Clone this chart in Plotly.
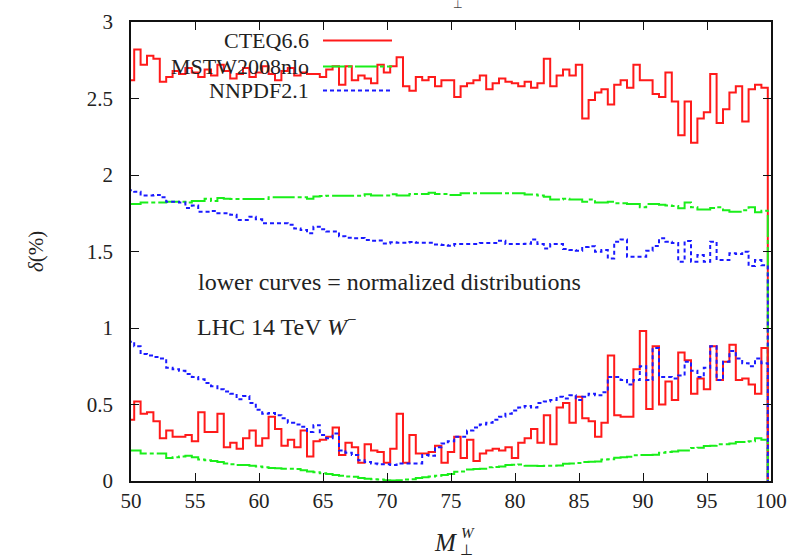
import numpy as np
import plotly.graph_objects as go

# ---------------- data ----------------
X_START = 50.0
BIN_WIDTH = 0.5

cteq_upper = [2.62, 2.82, 2.72, 2.78, 2.76, 2.61, 2.64, 2.68, 2.66, 2.70,
              2.67, 2.64, 2.69, 2.65, 2.72, 2.68, 2.63, 2.66, 2.70, 2.64,
              2.67, 2.71, 2.66, 2.62, 2.68, 2.70, 2.65, 2.67, 2.66, 2.66,
              2.64, 2.69, 2.71, 2.59, 2.71, 2.62, 2.65, 2.63, 2.60, 2.72,
              2.67, 2.71, 2.77, 2.58, 2.55, 2.64, 2.62, 2.64, 2.58, 2.62,
              2.62, 2.51, 2.58, 2.60, 2.62, 2.65, 2.56, 2.60, 2.63, 2.61,
              2.60, 2.58, 2.61, 2.57, 2.60, 2.76, 2.58, 2.65, 2.69, 2.65,
              2.72, 2.37, 2.49, 2.54, 2.56, 2.46, 2.59, 2.62, 2.57, 2.72,
              2.62, 2.62, 2.53, 2.51, 2.67, 2.48, 2.26, 2.48, 2.21, 2.37,
              2.41, 2.66, 2.34, 2.43, 2.54, 2.58, 2.35, 2.56, 2.59, 2.57]

mstw_upper = [1.81, 1.81, 1.82, 1.82, 1.82, 1.82, 1.825, 1.825, 1.825, 1.82,
              1.83, 1.83, 1.845, 1.83, 1.85, 1.845, 1.843, 1.843, 1.843, 1.843,
              1.843, 1.843, 1.855, 1.855, 1.855, 1.855, 1.855, 1.855, 1.845, 1.86,
              1.862, 1.865, 1.865, 1.865, 1.865, 1.865, 1.865, 1.875, 1.866, 1.866,
              1.866, 1.875, 1.866, 1.866, 1.876, 1.876, 1.876, 1.884, 1.876, 1.876,
              1.87, 1.87, 1.88, 1.88, 1.88, 1.88, 1.88, 1.88, 1.88, 1.88,
              1.88, 1.88, 1.873, 1.873, 1.866, 1.858, 1.84, 1.84, 1.845, 1.84,
              1.84, 1.825, 1.84, 1.82, 1.82, 1.825, 1.815, 1.815, 1.81, 1.81,
              1.79, 1.81, 1.81, 1.805, 1.80, 1.797, 1.782, 1.82, 1.79, 1.775,
              1.775, 1.785, 1.79, 1.77, 1.76, 1.76, 1.77, 1.79, 1.756, 1.767]

nnpdf_upper = [1.90, 1.89, 1.866, 1.866, 1.87, 1.854, 1.825, 1.825, 1.82, 1.785,
               1.80, 1.76, 1.76, 1.765, 1.75, 1.75, 1.74, 1.706, 1.706, 1.727,
               1.71, 1.684, 1.684, 1.684, 1.684, 1.675, 1.651, 1.64, 1.62, 1.662,
               1.645, 1.63, 1.63, 1.60, 1.59, 1.586, 1.588, 1.575, 1.57, 1.572,
               1.553, 1.56, 1.557, 1.557, 1.562, 1.557, 1.557, 1.557, 1.545, 1.542,
               1.538, 1.549, 1.549, 1.549, 1.549, 1.555, 1.555, 1.555, 1.57, 1.549,
               1.549, 1.549, 1.551, 1.579, 1.549, 1.52, 1.549, 1.549, 1.516, 1.51,
               1.505, 1.53, 1.535, 1.499, 1.51, 1.455, 1.564, 1.579, 1.466, 1.466,
               1.466, 1.505, 1.536, 1.586, 1.564, 1.555, 1.433, 1.568, 1.433, 1.477,
               1.433, 1.564, 1.444, 1.444, 1.488, 1.483, 1.499, 1.405, 1.444, 1.41]

cteq_lower = [0.40, 0.52, 0.44, 0.45, 0.39, 0.28, 0.33, 0.29, 0.29, 0.30,
              0.26, 0.45, 0.32, 0.32, 0.44, 0.22, 0.25, 0.21, 0.28, 0.33,
              0.23, 0.28, 0.42, 0.34, 0.23, 0.27, 0.22, 0.33, 0.16, 0.26,
              0.27, 0.29, 0.35, 0.17, 0.25, 0.22, 0.12, 0.24, 0.20, 0.19,
              0.12, 0.21, 0.44, 0.12, 0.30, 0.18, 0.18, 0.19, 0.23, 0.12,
              0.19, 0.29, 0.15, 0.27, 0.13, 0.18, 0.20, 0.21, 0.20, 0.22,
              0.15, 0.25, 0.28, 0.34, 0.25, 0.43, 0.24, 0.48, 0.51, 0.38,
              0.55, 0.41, 0.39, 0.29, 0.38, 0.82, 0.43, 0.42, 0.42, 0.73,
              0.98, 0.47, 0.88, 0.50, 0.65, 0.53, 0.84, 0.79, 0.57, 0.67,
              0.60, 0.88, 0.66, 0.78, 0.89, 0.66, 0.67, 0.63, 0.57, 0.87]

mstw_lower = [0.20, 0.20, 0.18, 0.18, 0.18, 0.18, 0.15, 0.155, 0.16, 0.165,
              0.155, 0.14, 0.135, 0.13, 0.125, 0.115, 0.11, 0.105, 0.105, 0.10,
              0.095, 0.09, 0.085, 0.083, 0.08, 0.08, 0.078, 0.07, 0.062, 0.058,
              0.05, 0.045, 0.04, 0.035, 0.03, 0.028, 0.02, 0.015, 0.012, 0.01,
              0.005, 0.003, 0.005, 0.01, 0.012, 0.02, 0.025, 0.03, 0.035, 0.04,
              0.045, 0.06, 0.062, 0.075, 0.078, 0.08, 0.09, 0.092, 0.095, 0.105,
              0.107, 0.108, 0.10, 0.10, 0.098, 0.10, 0.10, 0.102, 0.112, 0.115,
              0.118, 0.125, 0.126, 0.128, 0.14, 0.142, 0.152, 0.155, 0.158, 0.168,
              0.17, 0.17, 0.172, 0.185, 0.19, 0.192, 0.20, 0.20, 0.215, 0.218,
              0.228, 0.23, 0.24, 0.24, 0.245, 0.255, 0.255, 0.26, 0.28, 0.27]

nnpdf_lower = [0.91, 0.88, 0.83, 0.82, 0.81, 0.80, 0.74, 0.73, 0.72, 0.70,
               0.68, 0.665, 0.64, 0.62, 0.60, 0.585, 0.57, 0.535, 0.555, 0.51,
               0.465, 0.44, 0.445, 0.43, 0.41, 0.38, 0.37, 0.355, 0.32, 0.365,
               0.30, 0.28, 0.31, 0.20, 0.185, 0.17, 0.135, 0.125, 0.115, 0.11,
               0.11, 0.105, 0.115, 0.115, 0.115, 0.115, 0.17, 0.165, 0.22, 0.245,
               0.26, 0.29, 0.29, 0.33, 0.35, 0.37, 0.38, 0.40, 0.42, 0.44,
               0.46, 0.48, 0.49, 0.48, 0.51, 0.52, 0.53, 0.55, 0.54, 0.56,
               0.53, 0.55, 0.57, 0.56, 0.58, 0.68, 0.68, 0.66, 0.63, 0.66,
               0.75, 0.66, 0.87, 0.68, 0.68, 0.67, 0.69, 0.78, 0.72, 0.68,
               0.74, 0.88, 0.66, 0.78, 0.85, 0.80, 0.77, 0.75, 0.80, 0.77]

legend_labels = ["CTEQ6.6", "MSTW2008nlo", "NNPDF2.1"]
x_ticks = [50, 55, 60, 65, 70, 75, 80, 85, 90, 95, 100]
y_ticks = [0, 0.5, 1, 1.5, 2, 2.5, 3]
y_tick_labels = ["0", "0.5", "1", "1.5", "2", "2.5", "3"]

# ---------------- styles ----------------
FONT = "Liberation Serif, Times New Roman, serif"
TXT = "#222222"
styles = [dict(color="#ff1a1a", width=2, dash="solid"),
          dict(color="#1aee1a", width=2, dash="22px,3px,4px,3px"),
          dict(color="#1a1aff", width=2, dash="4px,3px")]

centers = X_START + BIN_WIDTH * np.arange(len(cteq_upper))


def step_xy(vals):
    x = np.append(centers - BIN_WIDTH / 2, centers[-1] + BIN_WIDTH / 2)
    y = np.append(np.asarray(vals, dtype=float), 0.0)
    return x, y


fig = go.Figure()
series = [(cteq_upper, 0), (mstw_upper, 1), (nnpdf_upper, 2),
          (cteq_lower, 0), (mstw_lower, 1), (nnpdf_lower, 2)]
for vals, k in series:
    x, y = step_xy(vals)
    fig.add_trace(go.Scatter(x=x, y=y, mode="lines", line_shape="hv",
                             line=styles[k], showlegend=False,
                             hoverinfo="skip"))

# ---------------- layout ----------------
L, R, T, B = 131, 23, 22, 77
W, H = 794, 558
pw, ph = W - L - R, H - T - B


def px2paper(px, py):
    return (px - L) / pw, (H - B - py) / ph


shapes = []
annotations = []
legend_rows_py = [40.5, 66.5, 90.5]
for lab, py, st in zip(legend_labels, legend_rows_py, styles):
    x0, yy = px2paper(323, py)
    x1, _ = px2paper(392, py)
    shapes.append(dict(type="line", xref="paper", yref="paper",
                       x0=x0, x1=x1, y0=yy, y1=yy,
                       line=dict(color=st["color"], width=st["width"], dash=st["dash"])))
    xt, _ = px2paper(311, py)
    annotations.append(dict(text=lab, xref="paper", yref="paper", x=xt, y=yy,
                            xanchor="right", yanchor="middle", showarrow=False,
                            font=dict(family=FONT, size=22, color=TXT)))

ax, ay = px2paper(196, 282)
annotations.append(dict(text="lower curves = normalized distributions",
                        xref="paper", yref="paper", x=ax, y=ay,
                        xanchor="left", yanchor="middle", showarrow=False,
                        font=dict(family=FONT, size=24, color=TXT)))
ax, ay = px2paper(195, 325)
annotations.append(dict(text="LHC 14 TeV <i>W</i><sup>−</sup>",
                        xref="paper", yref="paper", x=ax, y=ay,
                        xanchor="left", yanchor="middle", showarrow=False,
                        font=dict(family=FONT, size=24, color=TXT)))
# y title
ax, ay = px2paper(36, 252)
annotations.append(dict(text="<i>δ</i>(%)", xref="paper", yref="paper", x=ax, y=ay,
                        xanchor="center", yanchor="middle", textangle=-90,
                        showarrow=False, font=dict(family=FONT, size=21, color=TXT)))
# x title M_perp^W
ax, ay = px2paper(459, 542)
annotations.append(dict(text="<i>M</i>", xref="paper", yref="paper", x=ax, y=ay,
                        xanchor="right", yanchor="middle", showarrow=False,
                        font=dict(family=FONT, size=25, color=TXT)))
ax, ay = px2paper(459, 533)
annotations.append(dict(text="<i>W</i>", xref="paper", yref="paper", x=ax, y=ay,
                        xanchor="left", yanchor="middle", showarrow=False,
                        font=dict(family=FONT, size=15, color=TXT)))
ax, ay = px2paper(458, 550)
annotations.append(dict(text="⊥", xref="paper", yref="paper", x=ax, y=ay,
                        xanchor="left", yanchor="middle", showarrow=False,
                        font=dict(family=FONT, size=15, color=TXT)))
# clipped title remnant at the very top
ax, ay = px2paper(458, 4)
annotations.append(dict(text="⊥", xref="paper", yref="paper", x=ax, y=ay,
                        xanchor="center", yanchor="middle", showarrow=False,
                        font=dict(family=FONT, size=11, color="#444444")))

axis_common = dict(showline=True, linecolor="#111111", linewidth=1.5,
                   mirror="ticks", ticks="inside", ticklen=8, tickwidth=1.3,
                   tickcolor="#111111", showgrid=False, zeroline=False,
                   automargin=False,
                   tickfont=dict(family=FONT, size=21, color=TXT))

fig.update_layout(
    width=W, height=H,
    margin=dict(l=L, r=R, t=T, b=B, autoexpand=False),
    paper_bgcolor="white", plot_bgcolor="white",
    xaxis=dict(range=[50, 100], tickvals=x_ticks, ticklabelstandoff=0, **axis_common),
    yaxis=dict(range=[0, 3], tickvals=y_ticks, ticktext=y_tick_labels,
               ticklabelstandoff=12, **axis_common),
    shapes=shapes, annotations=annotations,
    showlegend=False,
)

fig.write_html("out.html", config={"displayModeBar": False},
               post_script="document.body.style.margin='0';document.body.style.padding='0';")
